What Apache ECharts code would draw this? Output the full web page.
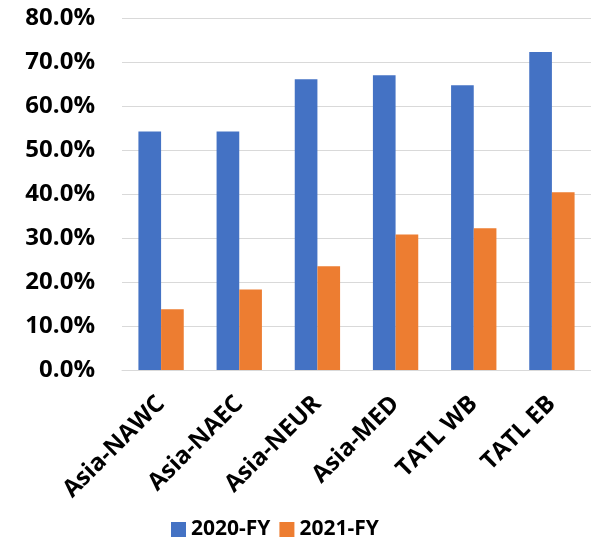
<!DOCTYPE html>
<html><head><meta charset="utf-8">
<script src="https://cdn.jsdelivr.net/npm/echarts@6/dist/echarts.min.js"></script>
<style>html,body{margin:0;padding:0;background:#fff}#c{width:591px;height:538px}</style>
</head><body><div id="c"></div>
<script>
const categories = ['Asia-NAWC','Asia-NAEC','Asia-NEUR','Asia-MED','TATL WB','TATL EB'];
const fy2020 = [54.2, 54.2, 66.1, 67.0, 64.7, 72.3];
const fy2021 = [13.8, 18.3, 23.6, 30.8, 32.2, 40.4];
const seriesNames = ['2020-FY','2021-FY'];
const chart = echarts.init(document.getElementById('c'));
const font = 'Open Sans';
chart.setOption({
  animation:false,
  grid:{left:122, right:0, top:18, bottom:168},
  legend:{
    data:seriesNames, left:166, top:514, itemWidth:15, itemHeight:15, itemGap:9,
    icon:'rect',
    textStyle:{fontFamily:font, fontWeight:'bold', fontSize:21, color:'#000'}
  },
  xAxis:{
    type:'category', data:categories,
    axisLine:{lineStyle:{color:'#d9d9d9'}}, axisTick:{show:false},
    axisLabel:{rotate:45, interval:0, margin:30, fontFamily:font, fontWeight:'bold', fontSize:24, color:'#000'}
  },
  yAxis:{
    type:'value', min:0, max:80, interval:10,
    axisLine:{show:false}, axisTick:{show:false},
    splitLine:{lineStyle:{color:'#d9d9d9'}},
    axisLabel:{margin:27, fontFamily:font, fontWeight:'bold', fontSize:24, color:'#000',
      formatter:v=>v.toFixed(1)+'%'}
  },
  series:[
    {name:seriesNames[0], type:'bar', data:fy2020, barGap:'0%', barCategoryGap:'42%', itemStyle:{color:'#4472C4'}},
    {name:seriesNames[1], type:'bar', data:fy2021, itemStyle:{color:'#ED7D31'}}
  ]
});
</script></body></html>
